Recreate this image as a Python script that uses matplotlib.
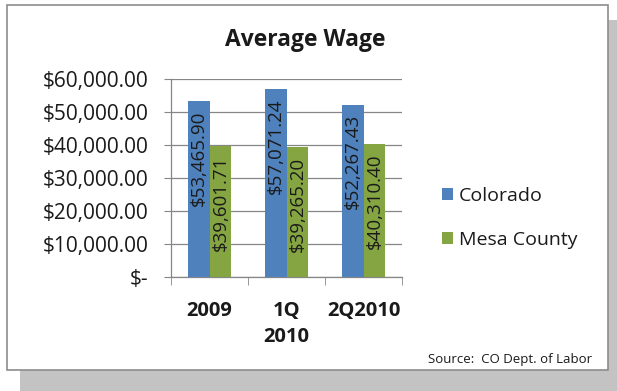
import matplotlib.pyplot as plt
import matplotlib.patches as patches
from matplotlib.ticker import FuncFormatter
import numpy as np

plt.rcParams["font.family"] = ["Open Sans", "DejaVu Sans"]

categories = ["2009", "1Q\n2010", "2Q2010"]
colorado = [53465.90, 57071.24, 52267.43]
mesa_county = [39601.71, 39265.20, 40310.40]
series_names = ["Colorado", "Mesa County"]

blue = "#4f81bd"
green = "#84a542"
axis_gray = "#868686"
ink = "#1a1a1a"

W, H = 617, 391
fig = plt.figure(figsize=(W / 100, H / 100), dpi=100)
fig.patch.set_facecolor("white")

# drop shadow + bordered chart area
fig.patches.append(patches.Rectangle((20 / W, 0), 597 / W, 1 - 20 / H,
                                     transform=fig.transFigure, facecolor="#c3c3c3",
                                     edgecolor="none", zorder=-3))
fig.patches.append(patches.Rectangle((7 / W, 1 - 370 / H), 601 / W, 365 / H,
                                     transform=fig.transFigure, facecolor="white",
                                     edgecolor="#8c8c8c", linewidth=1.2, zorder=-2))

ax = fig.add_axes([171 / W, 1 - 277 / H, 231 / W, 198 / H])
ax.set_facecolor("none")

x = np.arange(len(categories))
bw = 0.285
b1 = ax.bar(x - bw / 2, colorado, bw, color=blue, label=series_names[0], zorder=3)
b2 = ax.bar(x + bw / 2, mesa_county, bw, color=green, label=series_names[1], zorder=3)

for bars, vals in ((b1, colorado), (b2, mesa_county)):
    for rect, v in zip(bars, vals):
        ax.annotate("${:,.2f}".format(v), (rect.get_x() + rect.get_width() / 2, v),
                    xytext=(0, -7), textcoords="offset points", rotation=90,
                    ha="center", va="top", fontsize=13.5, color=ink, zorder=4)

ax.set_xlim(-0.5, len(categories) - 0.5)
ax.set_ylim(0, 60000)
ax.set_yticks(np.arange(0, 60001, 10000))
ax.yaxis.set_major_formatter(FuncFormatter(lambda v, p: "$-" if v == 0 else "${:,.2f}".format(v)))
ax.yaxis.grid(True, color=axis_gray, linewidth=0.9, zorder=0)

ax.set_xticks(x)
ax.set_xticklabels(categories, fontsize=14.5, fontweight="bold", color=ink, linespacing=1.4)
ax.set_xticks(np.arange(-0.5, len(categories)), minor=True)
ax.tick_params(axis="x", which="major", length=0, pad=17)
ax.tick_params(axis="x", which="minor", length=6, color=axis_gray, direction="out")
ax.tick_params(axis="y", length=5, color=axis_gray, labelsize=15, pad=11, labelcolor=ink)

for side in ("top", "right"):
    ax.spines[side].set_visible(False)
for side in ("left", "bottom"):
    ax.spines[side].set_color(axis_gray)
    ax.spines[side].set_linewidth(0.9)

fig.text(305 / W, 1 - 40 / H, "Average Wage", ha="center", va="center",
         fontsize=16.5, fontweight="bold", color=ink)

leg = fig.legend(handles=[b1, b2], labels=series_names, loc="center left",
                 bbox_to_anchor=(424 / W, 1 - 218 / H), frameon=False, fontsize=14,
                 handlelength=0.6, handleheight=0.6, handletextpad=0.3,
                 labelspacing=1.35, labelcolor=ink)

fig.text(592 / W, 1 - 360 / H, "Source:  CO Dept. of Labor", ha="right", va="center",
         fontsize=9.5, color=ink)

fig.savefig("out.png", dpi=100)
